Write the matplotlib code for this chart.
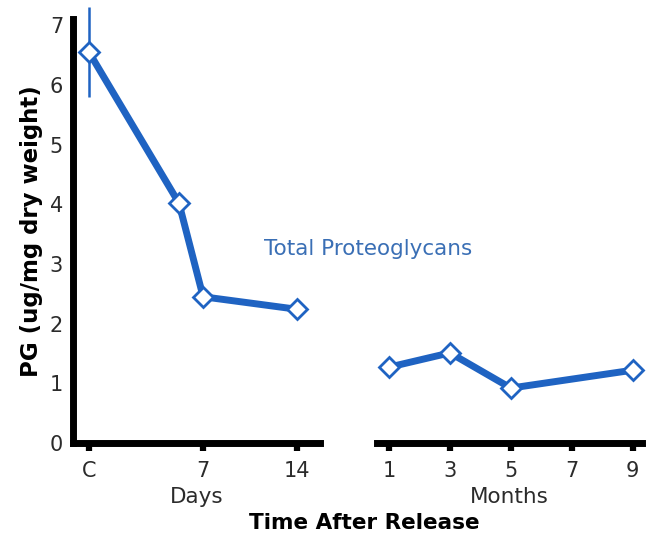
import matplotlib.pyplot as plt

# Proteoglycan content after release (ug/mg dry weight)
day_x = [-1.5, 5.2, 7, 14]
day_pg = [6.55, 4.02, 2.45, 2.24]
day_err = [0.75, 0, 0, 0]
day_ticks = [-1.5, 7, 14]
day_labels = ['C', '7', '14']

month_x = [1, 3, 5, 9]
month_pg = [1.27, 1.51, 0.92, 1.22]
month_ticks = [1, 3, 5, 7, 9]

blue = '#1f63c2'
text_gray = '#2b2b2b'
plt.rcParams['font.family'] = 'DejaVu Sans'

fig = plt.figure(figsize=(6.68, 5.35), dpi=100)
ax1 = fig.add_axes([0.109, 0.172, 0.370, 0.792])
ax2 = fig.add_axes([0.564, 0.172, 0.397, 0.792])

line_kw = dict(color=blue, lw=5, marker='D', ms=10, mfc='white', mec=blue, mew=2, clip_on=False, zorder=3)

ax1.plot(day_x, day_pg, **line_kw)
ax1.errorbar(day_x[:1], day_pg[:1], yerr=day_err[:1], fmt='none', ecolor=blue, elinewidth=1.8, capsize=0,
             clip_on=False, zorder=2)
ax2.plot(month_x, month_pg, **line_kw)

for ax in (ax1, ax2):
    ax.set_ylim(0, 7.1)
    for s in ('top', 'right'):
        ax.spines[s].set_visible(False)
    ax.spines['bottom'].set_linewidth(5)
    ax.spines['left'].set_linewidth(5)
    ax.tick_params(axis='x', direction='out', length=6, width=4.5, labelsize=15, pad=7,
                   color='black', labelcolor=text_gray)
    ax.tick_params(axis='y', length=0, labelsize=15, pad=7, labelcolor=text_gray)

ax1.set_xlim(-2.7, 15.7)
ax1.set_xticks(day_ticks)
ax1.set_xticklabels(day_labels)
ax1.set_yticks(range(0, 8))

ax2.set_xlim(0.6, 9.3)
ax2.set_xticks(month_ticks)
ax2.spines['left'].set_visible(False)
ax2.set_yticks([])

ax1.set_xlabel('Days', fontsize=15.5, labelpad=4, color=text_gray)
ax2.set_xlabel('Months', fontsize=15.5, labelpad=4, color=text_gray)
ax1.set_ylabel('PG (ug/mg dry weight)', fontsize=16.5, fontweight='bold', labelpad=5)
fig.text(0.546, 0.004, 'Time After Release', fontsize=15.5, fontweight='bold', ha='center', va='bottom')

fig.text(0.551, 0.535, 'Total Proteoglycans', fontsize=15.5, color='#3a6fb5', ha='center', va='center')

fig.savefig('out.png', dpi=100)
